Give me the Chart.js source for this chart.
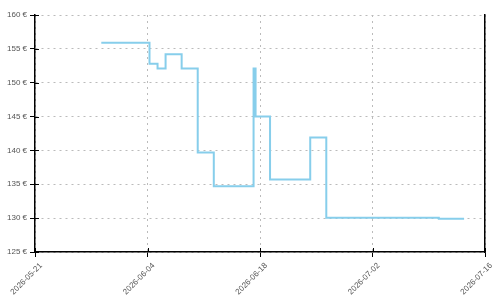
<!DOCTYPE html>
<html>
<head>
<meta charset="utf-8">
<script src="https://cdn.jsdelivr.net/npm/chart.js@4/dist/chart.umd.min.js"></script>
<style>
    html, body { margin: 0; padding: 0; background: #fff; }
    #wrap { width: 500px; height: 300px; }
</style>
</head>
<body>
<div id="wrap"><canvas id="priceChart"></canvas></div>
<script>
// days counted from 2026-05-21 (x axis start)
const startDate = Date.UTC(2026, 4, 21);
const days = [8.25, 14.25, 15.25, 16.25, 18.25, 20.25, 22.25, 27.2, 27.45, 29.25, 34.25, 36.25, 50.25, 53.4];
const prices = [155.9, 152.8, 152.1, 154.2, 152.1, 139.7, 134.7, 152.1, 145.0, 135.7, 141.9, 130.05, 129.9, 129.9];
const yTicks = [125, 130, 135, 140, 145, 150, 155, 160];

function formatDay(d) {
    const dt = new Date(startDate + d * 86400000);
    return dt.toISOString().slice(0, 10);
}

const labelFont = { family: "'Liberation Sans', Arial, sans-serif", size: 8 };
const labelColor = "#555";

// small tick stubs inside the plot area, so ticks cross the axis line
const innerTicks = {
    id: "innerTicks",
    afterDraw(chart) {
        const c = chart.ctx;
        const xs = chart.scales.x, ys = chart.scales.y;
        c.save();
        c.strokeStyle = "#000";
        c.lineWidth = 1;
        c.beginPath();
        xs.ticks.forEach(t => {
            const px = Math.round(xs.getPixelForValue(t.value)) + 0.5;
            c.moveTo(px, xs.top);
            c.lineTo(px, xs.top - 4);
        });
        ys.ticks.forEach(t => {
            const py = Math.round(ys.getPixelForValue(t.value)) + 0.5;
            c.moveTo(ys.right, py);
            c.lineTo(ys.right + 4, py);
        });
        c.stroke();
        c.restore();
    }
};

const ctx = document.getElementById("priceChart").getContext("2d");
new Chart(ctx, {
    type: "line",
    data: {
        datasets: [{
            data: days.map((d, i) => ({ x: d, y: prices[i] })),
            borderColor: "#87CEEB",
            borderWidth: 2,
            pointRadius: 0,
            stepped: true,
            fill: false
        }]
    },
    options: {
        responsive: true,
        maintainAspectRatio: false,
        animation: false,
        layout: { padding: { top: 15, right: 15, left: 0, bottom: 0 } },
        plugins: { legend: { display: false }, tooltip: { enabled: false } },
        scales: {
            x: {
                type: "linear",
                min: 0,
                max: 56,
                afterFit: (scale) => { scale.height = 48; },
                ticks: {
                    stepSize: 14,
                    maxRotation: 45,
                    minRotation: 45,
                    font: labelFont,
                    color: labelColor,
                    padding: 4,
                    labelOffset: 6,
                    callback: (v) => formatDay(v)
                },
                grid: {
                    color: "#bbb",
                    tickColor: "#000",
                    tickLength: 5,
                    tickBorderDash: []
                },
                border: { color: "#000", width: 1.5, dash: [2, 4] }
            },
            y: {
                min: 125,
                max: 160,
                afterFit: (scale) => { scale.width = 35; },
                afterBuildTicks: (scale) => { scale.ticks = yTicks.map(v => ({ value: v })); },
                ticks: {
                    font: labelFont,
                    color: labelColor,
                    padding: 3,
                    callback: (v) => v + " €"
                },
                grid: {
                    color: "#bbb",
                    tickColor: "#000",
                    tickLength: 5
                },
                border: { color: "#000", width: 1.5, dash: [2, 4] }
            },
            y2: {
                position: "right",
                min: 125,
                max: 160,
                afterFit: (scale) => { scale.width = 0; },
                ticks: { display: false },
                grid: { display: false, drawTicks: false },
                border: { display: true, color: "#000", width: 1.5 }
            }
        }
    },
    plugins: [innerTicks]
});
</script>
</body>
</html>
